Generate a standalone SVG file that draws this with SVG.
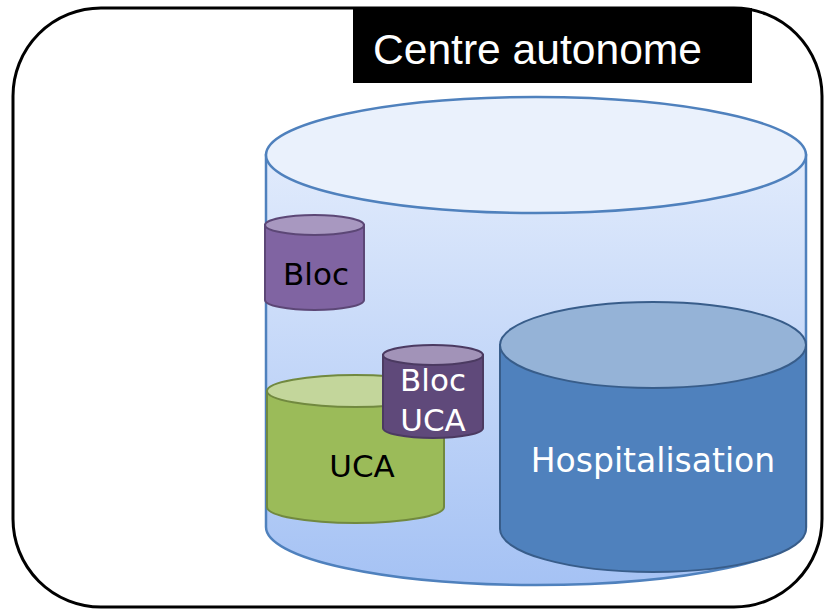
<svg xmlns="http://www.w3.org/2000/svg" width="825" height="610" viewBox="0 0 825 610">
<defs>
<linearGradient id="gBig" x1="0" y1="0" x2="0" y2="1">
<stop offset="0" stop-color="#e1ebfc"/>
<stop offset="1" stop-color="#a5c2f4"/>
</linearGradient>
<style>
.lbl{font-family:"DejaVu Sans",Verdana,sans-serif;text-anchor:middle}
</style>
</defs>
<rect width="825" height="610" fill="#ffffff"/>
<g id="frame">
<rect x="13" y="8" width="809" height="599" rx="88" ry="88" fill="#ffffff" stroke="#000000" stroke-width="3"/>
</g>
<g id="title">
<rect x="353" y="8" width="399" height="75" fill="#000000"/>
<text x="373" y="64" font-family="Liberation Sans, Arial, sans-serif" font-size="43" fill="#ffffff" textLength="329" lengthAdjust="spacingAndGlyphs">Centre autonome</text>
</g>
<g id="centre">
<path d="M266,155 L266,527 A270,58 0 0 0 806,527 L806,155 Z" fill="url(#gBig)" stroke="#4f81bd" stroke-width="2.5"/>
<ellipse cx="536" cy="155" rx="270" ry="58" fill="#eaf1fc" stroke="#4f81bd" stroke-width="2.5"/>
</g>
<g id="bloc">
<path d="M265,225 L265,300 A49.5,10 0 0 0 364,300 L364,225 Z" fill="#8064a2" stroke="#5c4776" stroke-width="2"/>
<ellipse cx="314.5" cy="225" rx="49.5" ry="10" fill="#a898c0" stroke="#5c4776" stroke-width="2"/>
<text class="lbl" x="316" y="285" font-size="31" fill="#000000">Bloc</text>
</g>
<g id="uca">
<path d="M267,391 L267,507 A88.5,16 0 0 0 444,507 L444,391 Z" fill="#9bbb59" stroke="#71893f" stroke-width="2"/>
<ellipse cx="355.5" cy="391" rx="88.5" ry="16" fill="#c3d69b" stroke="#71893f" stroke-width="2"/>
<text class="lbl" x="362" y="477" font-size="31" fill="#000000">UCA</text>
</g>
<g id="bloc-uca">
<path d="M383,355 L383,428 A50,10 0 0 0 483,428 L483,355 Z" fill="#5f497a" stroke="#4b3a61" stroke-width="2"/>
<ellipse cx="433" cy="355" rx="50" ry="10" fill="#a293b8" stroke="#4b3a61" stroke-width="2"/>
<text class="lbl" x="433" y="391" font-size="31" fill="#ffffff">Bloc</text>
<text class="lbl" x="433" y="431" font-size="31" fill="#ffffff">UCA</text>
</g>
<g id="hospitalisation">
<path d="M500,345 L500,529 A153,43 0 0 0 806,529 L806,345 Z" fill="#4f81bd" stroke="#385d8a" stroke-width="2"/>
<ellipse cx="653" cy="345" rx="153" ry="43" fill="#95b3d7" stroke="#385d8a" stroke-width="2"/>
<text class="lbl" x="653" y="472" font-size="33" fill="#ffffff">Hospitalisation</text>
</g>
<g id="connectors"/>
</svg>
